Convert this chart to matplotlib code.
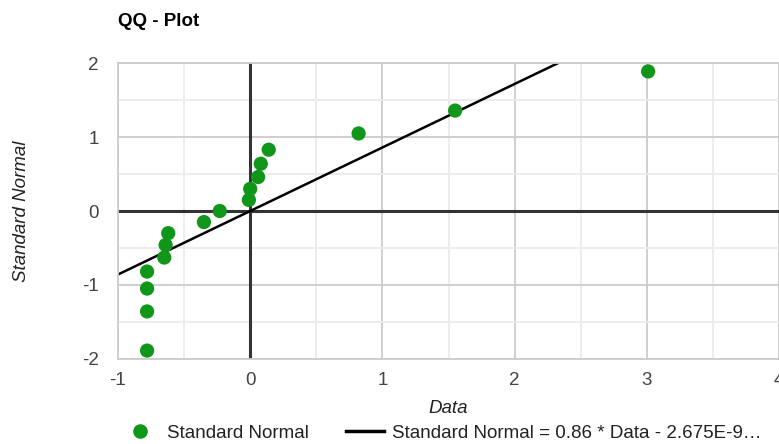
import matplotlib
matplotlib.use("Agg")
import matplotlib.pyplot as plt
from matplotlib.lines import Line2D
import numpy as np

plt.rcParams['font.family'] = ['Liberation Sans', 'DejaVu Sans']
plt.rcParams['axes.unicode_minus'] = False

data_x = [3.01, 1.55, 0.82, 0.14, 0.08, 0.06, 0.0, -0.01, -0.23, -0.35,
          -0.62, -0.64, -0.65, -0.78, -0.78, -0.78, -0.78]
std_normal = [1.89, 1.36, 1.05, 0.83, 0.64, 0.46, 0.30, 0.15, 0.0, -0.15,
              -0.30, -0.46, -0.63, -0.82, -1.05, -1.36, -1.89]
slope = 0.86
intercept = -2.675e-9
x_ticks = [-1, 0, 1, 2, 3, 4]
y_ticks = [-2, -1, 0, 1, 2]
trend_label = "Standard Normal = 0.86 * Data - 2.675E-9…"
series_label = "Standard Normal"

FS = 13.5
W, H = 779, 444
fig = plt.figure(figsize=(W / 100, H / 100), dpi=100)
ax = fig.add_axes([118 / W, 1 - 358.7 / H, (779 - 118) / W, (358.7 - 63.3) / H])

ax.set_xlim(-1, 4)
ax.set_ylim(-2, 2)
ax.set_xticks(x_ticks)
ax.set_yticks(y_ticks)
ax.set_xticks(np.arange(-0.5, 4, 1), minor=True)
ax.set_yticks(np.arange(-1.5, 2, 1), minor=True)
ax.grid(True, which='major', color='#cccccc', linewidth=1.3, zorder=0)
ax.grid(True, which='minor', color='#ebebeb', linewidth=1.3, zorder=0)
ax.tick_params(which='both', length=0)
ax.tick_params(axis='both', labelsize=FS, labelcolor='#444444')
ax.tick_params(axis='x', pad=9.5)
ax.tick_params(axis='y', pad=14)
for s in ax.spines.values():
    s.set_color('#cccccc')
    s.set_linewidth(1.3)
ax.spines['right'].set_visible(False)

ax.axhline(0, color='#333333', linewidth=2.2, zorder=1.8)
ax.axvline(0, color='#333333', linewidth=2.2, zorder=1.8)

lx = np.array(ax.get_xlim())
ax.plot(lx, slope * lx + intercept, color='black', linewidth=1.8, zorder=2, solid_capstyle='butt')
ax.scatter(data_x, std_normal, s=105, color='#109618', edgecolors='none', zorder=3)

ax.set_xlabel('Data', fontsize=FS, style='italic', color='#222222', labelpad=8)
ax.set_ylabel('Standard Normal', fontsize=FS, style='italic', color='#222222', labelpad=37)

fig.text(118 / W, 1 - 22 / H, 'QQ - Plot', fontsize=FS, fontweight='bold', color='#000000',
         ha='left', va='center')

handles = [Line2D([], [], marker='o', linestyle='none', color='#109618', markersize=10.5,
                  markeredgewidth=0),
           Line2D([], [], color='black', linewidth=2.5)]
fig.legend(handles, [series_label, trend_label], loc='center left',
           bbox_to_anchor=(121 / W, 1 - 433 / H), ncol=2, frameon=False,
           fontsize=FS, handlelength=2.0, handletextpad=0.45, columnspacing=2.0,
           labelcolor='#222222', borderaxespad=0, borderpad=0)

fig.savefig('out.png', dpi=100)
